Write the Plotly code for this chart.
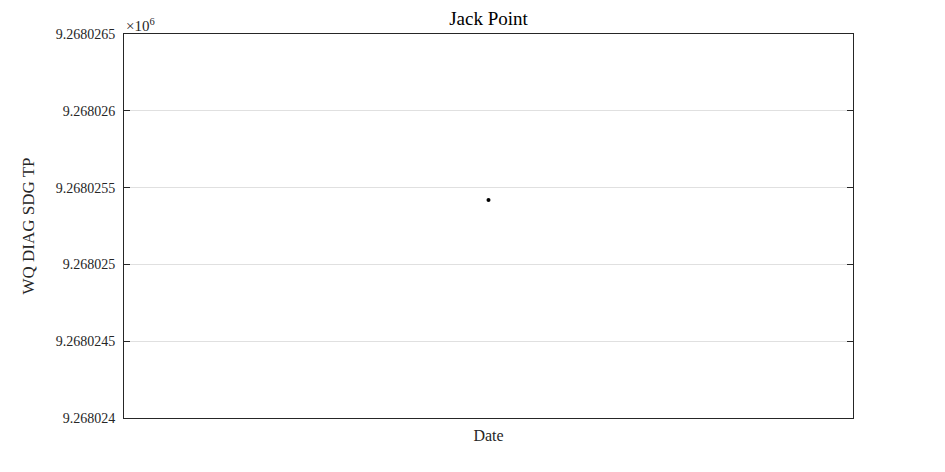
import plotly.graph_objects as go

title = "Jack Point"
y_label = "WQ DIAG SDG TP"
x_label = "Date"
dates = ["2019-01-01"]
values = [9268025.42]
y_tick_vals = [9268024.0, 9268024.5, 9268025.0, 9268025.5, 9268026.0, 9268026.5]
y_tick_text = ["9.268024", "9.2680245", "9.268025", "9.2680255", "9.268026", "9.2680265"]

FONT = "Liberation Serif"

fig = go.Figure()
fig.add_trace(go.Scatter(
    x=dates, y=values, mode="markers",
    marker=dict(color="black", size=4),
    showlegend=False,
))

fig.update_layout(
    width=945, height=472,
    margin=dict(l=124, r=92, t=34, b=54),
    paper_bgcolor="white", plot_bgcolor="white",
    font=dict(family=FONT, color="#262626"),
    title=dict(text=title, x=(124 + 853) / 2 / 945, xanchor="center",
               y=1 - 18 / 472, yanchor="middle",
               font=dict(family=FONT, size=19, color="black")),
)
fig.update_xaxes(
    type="date",
    range=["2018-12-31", "2019-01-02"],
    showticklabels=False, ticks="", showgrid=False, zeroline=False,
    showline=True, linecolor="#262626", linewidth=1, mirror=True,
    title=dict(text=x_label, font=dict(family=FONT, size=16, color="#262626"), standoff=11),
)
fig.update_yaxes(
    range=[y_tick_vals[0], y_tick_vals[-1]],
    tickmode="array", tickvals=y_tick_vals, ticktext=y_tick_text,
    ticks="inside", ticklen=6, tickcolor="#262626",
    ticklabelstandoff=5,
    showline=True, linecolor="#262626", linewidth=1, mirror="ticks",
    showgrid=True, gridcolor="#e0e0e0", zeroline=False,
    tickfont=dict(family=FONT, size=14, color="#262626"),
    title=dict(text=y_label, font=dict(family=FONT, size=17, color="#262626"), standoff=16),
)
fig.add_annotation(
    text="×10<sup>6</sup>", xref="paper", yref="paper", x=0, y=1,
    xanchor="left", yanchor="bottom", showarrow=False, yshift=-2,
    font=dict(family=FONT, size=15, color="#262626"),
)
fig.write_html("out.html")
